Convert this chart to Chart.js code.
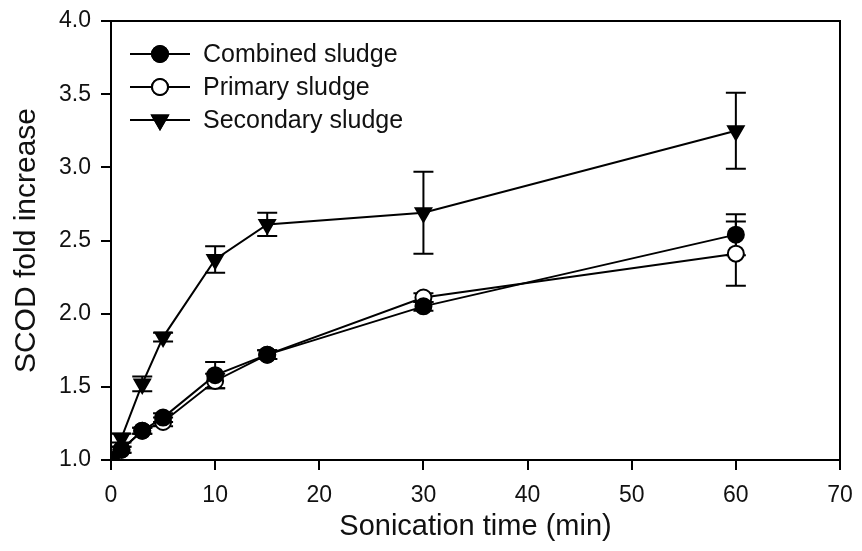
<!DOCTYPE html>
<html>
<head>
<meta charset="utf-8">
<script src="https://cdn.jsdelivr.net/npm/chart.js@4"></script>
<style>
  html, body { margin: 0; padding: 0; background: #fff; }
  #wrap { width: 862px; height: 551px; }
</style>
</head>
<body>
<div id="wrap"><canvas id="chart"></canvas></div>
<script>
var TIMES = [0, 1, 3, 5, 10, 15, 30, 60];
var COMBINED = [1.0, 1.07, 1.20, 1.29, 1.58, 1.72, 2.05, 2.54];
var COMBINED_ERR = [0, 0.02, 0.02, 0.03, 0.09, 0.03, 0.03, 0.14];
var PRIMARY = [1.0, 1.07, 1.20, 1.26, 1.54, 1.72, 2.11, 2.41];
var PRIMARY_ERR = [0, 0.02, 0.02, 0.03, 0.05, 0.03, 0.03, 0.22];
var SECONDARY = [1.0, 1.15, 1.52, 1.84, 2.37, 2.61, 2.69, 3.25];
var SECONDARY_ERR = [0, 0.03, 0.05, 0.03, 0.09, 0.08, 0.28, 0.26];
var LABELS = ['Combined sludge', 'Primary sludge', 'Secondary sludge'];

var FONT = "'Liberation Sans', Arial, sans-serif";

function pts(ys) {
    return TIMES.map(function (t, i) { return { x: t, y: ys[i] }; });
}

function series(label, ys, errs, style, fill, rot) {
    return {
        label: label,
        data: pts(ys),
        errors: errs,
        borderColor: '#000',
        borderWidth: 2,
        pointStyle: style,
        pointRotation: rot || 0,
        pointRadius: style === 'triangle' ? 9 : 8,
        pointBackgroundColor: fill,
        pointBorderColor: '#000',
        pointBorderWidth: 2,
        tension: 0
    };
}

var errorBars = {
    id: 'errorBars',
    beforeDatasetsDraw: function (chart) {
        var ctx = chart.ctx, ys = chart.scales.y, xs = chart.scales.x;
        ctx.save();
        ctx.strokeStyle = '#000';
        ctx.lineWidth = 2;
        chart.data.datasets.forEach(function (ds) {
            ds.data.forEach(function (p, i) {
                var e = ds.errors[i];
                if (!e) return;
                var px = xs.getPixelForValue(p.x);
                var top = ys.getPixelForValue(p.y + e);
                var bot = ys.getPixelForValue(p.y - e);
                ctx.beginPath();
                ctx.moveTo(px, top); ctx.lineTo(px, bot);
                ctx.moveTo(px - 10, top); ctx.lineTo(px + 10, top);
                ctx.moveTo(px - 10, bot); ctx.lineTo(px + 10, bot);
                ctx.stroke();
            });
        });
        ctx.restore();
    }
};

var frameAndLegend = {
    id: 'frameAndLegend',
    afterDatasetsDraw: function (chart) {
        var ctx = chart.ctx, a = chart.chartArea;
        ctx.save();
        ctx.strokeStyle = '#000';
        ctx.lineWidth = 2;
        ctx.strokeRect(a.left, a.top, a.right - a.left, a.bottom - a.top);

        // legend inside the plot, top-left
        var x0 = a.left + 19, y0 = a.top + 33, gap = 33;
        chart.data.datasets.forEach(function (ds, i) {
            var y = y0 + i * gap;
            ctx.beginPath();
            ctx.moveTo(x0, y); ctx.lineTo(x0 + 60, y);
            ctx.lineWidth = 2;
            ctx.stroke();
            Chart.helpers.drawPoint(ctx, {
                pointStyle: ds.pointStyle,
                rotation: ds.pointRotation,
                radius: ds.pointRadius,
                borderWidth: 2
            }, x0 + 30, y);
            ctx.fillStyle = ds.pointBackgroundColor;
            ctx.fill();
            ctx.stroke();
            ctx.fillStyle = '#111';
            ctx.font = '25px ' + FONT;
            ctx.textBaseline = 'middle';
            ctx.fillText(ds.label, x0 + 73, y + 1);
        });
        ctx.restore();
    }
};

new Chart(document.getElementById('chart'), {
    type: 'line',
    data: {
        datasets: [
            series(LABELS[0], COMBINED, COMBINED_ERR, 'circle', '#000'),
            series(LABELS[1], PRIMARY, PRIMARY_ERR, 'circle', '#fff'),
            series(LABELS[2], SECONDARY, SECONDARY_ERR, 'triangle', '#000', 180)
        ]
    },
    options: {
        responsive: true,
        maintainAspectRatio: false,
        animation: false,
        layout: { padding: { top: 21, right: 22, left: 0, bottom: 0 } },
        plugins: { legend: { display: false }, tooltip: { enabled: false } },
        scales: {
            x: {
                type: 'linear',
                min: 0, max: 70,
                ticks: { stepSize: 10, color: '#111', padding: 12, font: { family: FONT, size: 23 } },
                grid: { drawOnChartArea: false, drawTicks: true, tickLength: 10, color: '#000', lineWidth: 2 },
                border: { color: '#000', width: 2 },
                title: { display: true, text: 'Sonication time (min)', color: '#111', padding: 7,
                         font: { family: FONT, size: 29 } },
                afterFit: function (s) { s.height = 91; s.paddingLeft = 0; s.paddingRight = 0; }
            },
            y: {
                min: 1.0, max: 4.0,
                ticks: { stepSize: 0.5, color: '#111', padding: 10, font: { family: FONT, size: 23 },
                         callback: function (v) { return v.toFixed(1); } },
                grid: { drawOnChartArea: false, drawTicks: true, tickLength: 10, color: '#000', lineWidth: 2 },
                border: { color: '#000', width: 2 },
                title: { display: true, text: 'SCOD fold increase', color: '#111', padding: 9,
                         font: { family: FONT, size: 30 } },
                afterFit: function (s) { s.width = 111; s.paddingTop = 0; s.paddingBottom = 0; }
            }
        }
    },
    plugins: [errorBars, frameAndLegend]
});
</script>
</body>
</html>
